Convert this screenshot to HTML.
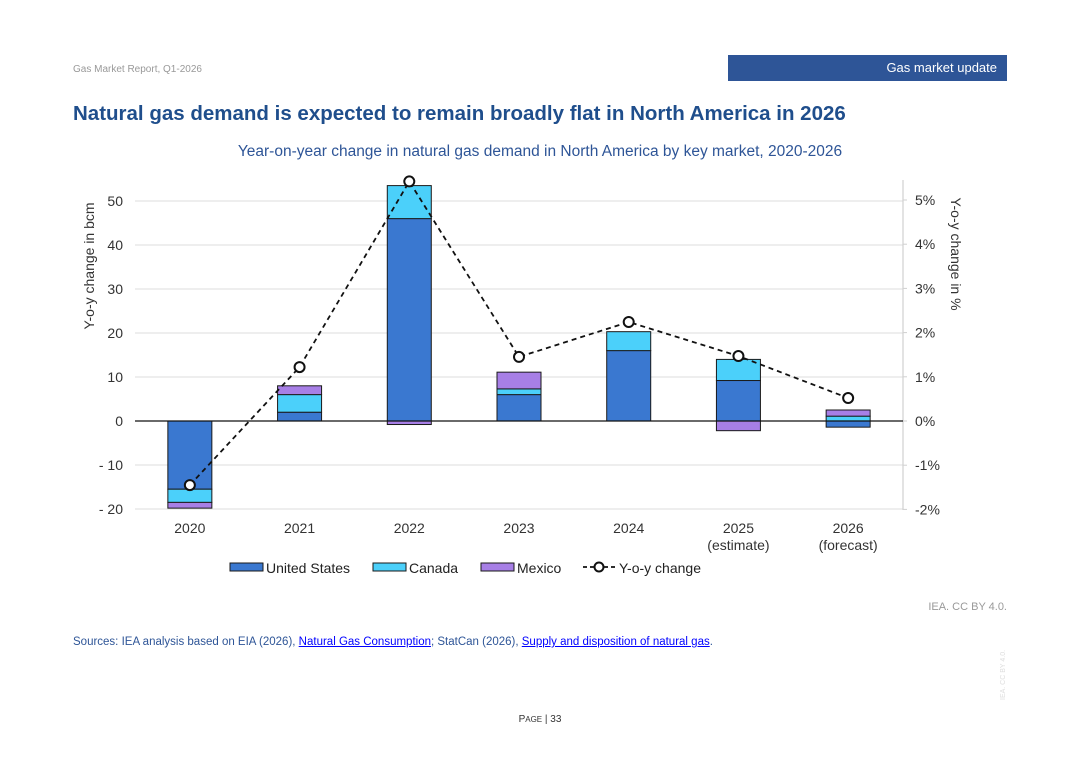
<!DOCTYPE html>
<html><head><meta charset="utf-8"><style>
body{margin:0;background:#fff;width:1080px;height:764px;overflow:hidden;font-family:"Liberation Sans",sans-serif;position:relative}
.a{position:absolute}
</style></head><body>
<div class="a" style="left:73px;top:64px;font-size:10px;color:#999">Gas Market Report, Q1-2026</div>
<div class="a" style="left:728px;top:55px;width:279px;height:26px;background:#2e5597;color:#fff;font-size:13px;text-align:right;box-sizing:border-box;padding:5px 10px 0 0">Gas market update</div>
<div class="a" style="left:73px;top:102px;font-size:20.5px;font-weight:bold;color:#1f4e8c">Natural gas demand is expected to remain broadly flat in North America in 2026</div>
<div class="a" style="left:0;width:1080px;top:143px;font-size:15.5px;color:#2e5597;text-align:center">Year-on-year change in natural gas demand in North America by key market, 2020-2026</div>
<svg class="a" style="left:0;top:0" width="1080" height="764" id="chart"></svg>
<div class="a" style="right:73px;top:601px;font-size:11px;color:#999">IEA. CC BY 4.0.</div>
<div class="a" style="left:73px;top:636px;font-size:11.5px;color:#2e5597">Sources: IEA analysis based on EIA (2026), <span style="color:#00f;text-decoration:underline">Natural Gas Consumption</span>; StatCan (2026), <span style="color:#00f;text-decoration:underline">Supply and disposition of natural gas</span>.</div>
<div class="a" style="left:0;width:1080px;text-align:center;top:714px;font-size:10px;color:#333">P<span style="font-size:8px">AGE</span> | 33</div>
<div class="a" style="left:1000px;top:700px;font-size:7px;color:#ddd;transform:rotate(-90deg);transform-origin:left top;white-space:nowrap">IEA. CC BY 4.0.</div>
<script>
const categories=["2020","2021","2022","2023","2024","2025","2026"];
const catLine2=["","","","","","(estimate)","(forecast)"];
const us=[-15.5,2,46,6,16,9.2,-1.4];
const canada=[-3,4,7.5,1.3,4.3,4.8,1.1];
const mexico=[-1.3,2,-0.8,3.8,0,-2.2,1.4];
const yoy=[-1.45,1.22,5.42,1.45,2.24,1.47,0.52];
const leftTicks=[50,40,30,20,10,0,-10,-20];
const leftTickLabels=["50","40","30","20","10","0","- 10","- 20"];
const rightTicks=[5,4,3,2,1,0,-1,-2];
const svg=document.getElementById('chart');
const NS='http://www.w3.org/2000/svg';
const X0=135,X1=903,Y0=421;
const yL=v=>Y0-v*4.4, yR=v=>Y0-v*44.2;
const xC=i=>X0+(i+0.5)*(X1-X0)/categories.length;
function mk(t,a,txt){const e=document.createElementNS(NS,t);for(const k in a)e.setAttribute(k,a[k]);if(txt!=null)e.textContent=txt;svg.appendChild(e);return e;}
leftTicks.forEach((t,i)=>{
 if(t!==0){const g=mk('line',{x1:X0,x2:X1,y1:yL(t),y2:yL(t),stroke:'#e3e3e3','stroke-width':1.2});
 }
 const l=mk('text',{x:123,y:yL(t)+5,'text-anchor':'end','font-size':14,fill:'#333'},leftTickLabels[i]);
 
});
const ra=mk('line',{x1:X1,x2:X1,y1:180,y2:510,stroke:'#d0d0d0','stroke-width':1.2});

rightTicks.forEach(t=>{
 mk('line',{x1:X1,x2:X1+4,y1:yR(t),y2:yR(t),stroke:'#d0d0d0'});
 const l=mk('text',{x:915,y:yR(t)+5,'font-size':14,fill:'#333'},t+'%');
 
});
const lt=mk('text',{transform:'translate(94,266) rotate(-90)','text-anchor':'middle','font-size':14,fill:'#333'},'Y-o-y change in bcm');

const rt=mk('text',{transform:'translate(951,254) rotate(90)','text-anchor':'middle','font-size':14,fill:'#333'},'Y-o-y change in %');

const cols=['#3a78d0','#4bd0fa','#a77fe6'];
const series=[us,canada,mexico];const names=['us','canada','mexico'];
categories.forEach((c,i)=>{
 let pos=0,neg=0;const cx=xC(i),w=44;
 series.forEach((s,k)=>{const v=s[i];if(!v)return;let a,b;
  if(v>0){a=pos;b=pos+v;pos=b;}else{a=neg;b=neg+v;neg=b;}
  const r=mk('rect',{x:cx-w/2,y:Math.min(yL(a),yL(b)),width:w,height:Math.abs(yL(a)-yL(b)),fill:cols[k],stroke:'#1a1a1a','stroke-width':1});
  });
 const l=mk('text',{x:cx,y:533,'text-anchor':'middle','font-size':14,fill:'#333'},c);
 
 if(catLine2[i]){const l2=mk('text',{x:cx,y:550,'text-anchor':'middle','font-size':14,fill:'#333'},catLine2[i]);
 }
});
const z=mk('line',{x1:X0,x2:X1,y1:Y0,y2:Y0,stroke:'#111','stroke-width':1.3});

const pl=mk('polyline',{points:yoy.map((v,i)=>xC(i)+','+yR(v)).join(' '),fill:'none',stroke:'#111','stroke-width':1.8,'stroke-dasharray':'5,4'});

yoy.forEach((v,i)=>{const p=mk('circle',{cx:xC(i),cy:yR(v),r:5,fill:'#fff',stroke:'#111','stroke-width':2});
 });
const leg=[['United States',cols[0],230],['Canada',cols[1],373],['Mexico',cols[2],481]];
leg.forEach(([n,c,x])=>{const r=mk('rect',{x:x,y:563,width:33,height:8,fill:c,stroke:'#1a1a1a'});
 
 const t=mk('text',{x:x+36,y:573,'font-size':14,fill:'#222'},n);
 });
mk('line',{x1:583,x2:616,y1:567,y2:567,stroke:'#111','stroke-width':1.8,'stroke-dasharray':'4,3'});
mk('circle',{cx:599,cy:567,r:4.5,fill:'#fff',stroke:'#111','stroke-width':2});
const yt=mk('text',{x:619,y:573,'font-size':14,fill:'#222'},'Y-o-y change');

</script>
</body></html>
